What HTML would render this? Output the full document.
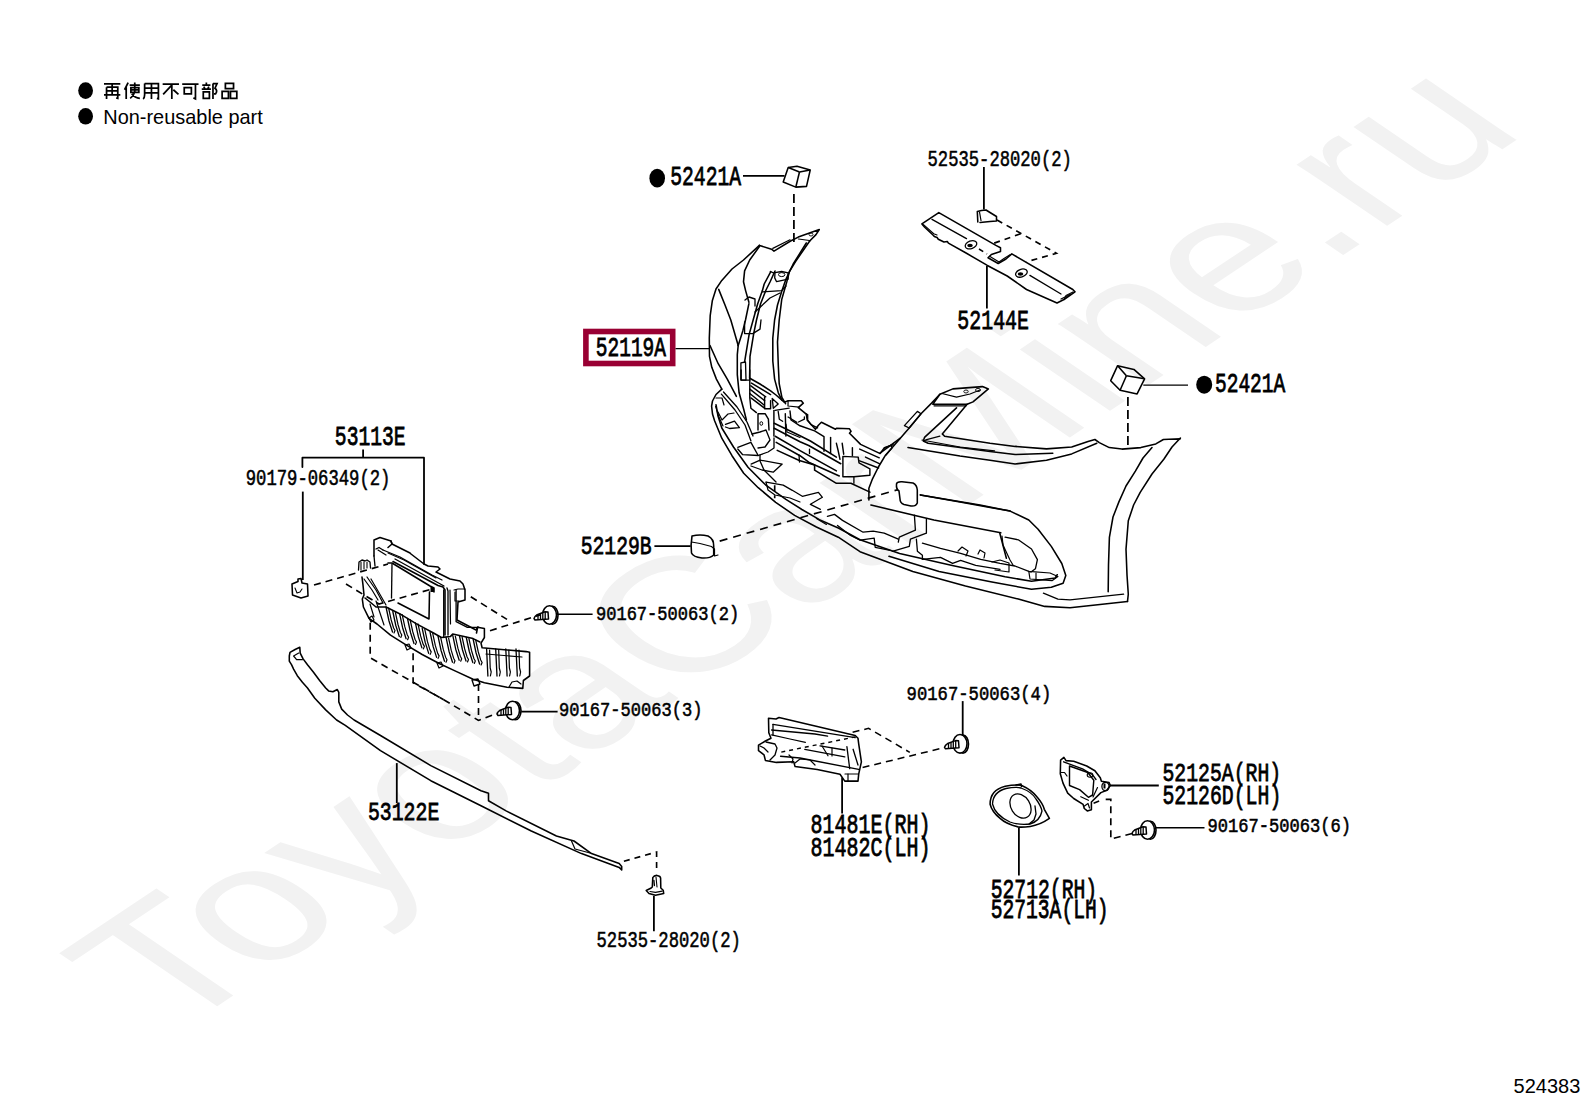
<!DOCTYPE html>
<html><head><meta charset="utf-8"><style>
html,body{margin:0;padding:0;background:#fff;}
body{width:1592px;height:1099px;overflow:hidden;position:relative;font-family:"Liberation Sans",sans-serif;}
svg{position:absolute;left:0;top:0;}
</style></head><body>
<svg width="1592" height="1099" viewBox="0 0 1592 1099">
<rect width="1592" height="1099" fill="#fff"/>
<text transform="matrix(0.70383 -0.46931 0.69913 0.47629 172.68 1035.70)" font-family="Liberation Sans" font-size="244.0" fill="#f2f2f2" letter-spacing="0.0">ToyotaCarMine.ru</text>
<ellipse cx="85.6" cy="90.6" rx="7.4" ry="8.3" fill="#000"/>
<ellipse cx="85.6" cy="116.3" rx="7.4" ry="8.3" fill="#000"/>
<path transform="translate(104.00 82.6) scale(1.02 1.02)" d="M0 1.2H16 M2.5 4.5V16 M2.5 4.5H13.5V15.5 L12 15 M8 1.2V12 M2.5 8H13.5 M0 12H16" fill="none" stroke="#000" stroke-width="1.7"/>
<path transform="translate(123.55 82.6) scale(1.02 1.02)" d="M4.5 0L1 7 M2.6 4.5V16 M6 2.5H16 M11 0V10 M7.2 5H15 V9.5H7.2Z M7.2 7.2H15 M10.5 10Q10 13 6.5 15.5 M8 11Q11 15 16 15.5" fill="none" stroke="#000" stroke-width="1.7"/>
<path transform="translate(143.10 82.6) scale(1.02 1.02)" d="M1.5 1V12Q1.5 15 0 16 M1.5 1H15V16 L13.5 15.5 M8.2 1V16 M1.5 5.5H15 M1.5 10H15" fill="none" stroke="#000" stroke-width="1.7"/>
<path transform="translate(162.65 82.6) scale(1.02 1.02)" d="M0 1.5H16 M9 1.5V16 M8.5 3L0.5 11.5 M10.5 7L15.5 11.5" fill="none" stroke="#000" stroke-width="1.7"/>
<path transform="translate(182.20 82.6) scale(1.02 1.02)" d="M0 1.5H16 M13 1.5V16 L11 15 M2 5H9V11H2Z" fill="none" stroke="#000" stroke-width="1.7"/>
<path transform="translate(201.75 82.6) scale(1.02 1.02)" d="M4.5 0V2.5 M0.5 2.5H8.5 M2 4L3 6 M7 4L6 6 M0 6.5H9 M1.5 9H7.5V15.5H1.5Z M11 1V16 M11 1H15L13 5.5Q16 8 13.5 11L12 11" fill="none" stroke="#000" stroke-width="1.7"/>
<path transform="translate(221.30 82.6) scale(1.02 1.02)" d="M4 0.8H12V6H4Z M0.8 8.5H7V15.5H0.8Z M9 8.5H15.2V15.5H9Z" fill="none" stroke="#000" stroke-width="1.7"/>
<text x="103.3" y="123.7" font-family="Liberation Sans" font-size="20.3" fill="#000" textLength="159.5" lengthAdjust="spacingAndGlyphs">Non-reusable part</text>
<text x="1513.6" y="1093.2" font-family="Liberation Sans" font-size="20" fill="#000">524383</text>
<g font-family="Liberation Mono" fill="#000">
<text transform="translate(670.17 185.00) scale(0.7210 1)" font-size="27.33" font-weight="normal" stroke="#000" stroke-width="0.8">52421A</text>
<text transform="translate(595.78 356.00) scale(0.7138 1)" font-size="27.33" font-weight="normal" stroke="#000" stroke-width="0.8">52119A</text>
<text transform="translate(957.36 328.70) scale(0.7409 1)" font-size="26.87" font-weight="normal" stroke="#000" stroke-width="0.8">52144E</text>
<text transform="translate(1214.98 392.00) scale(0.7310 1)" font-size="26.72" font-weight="normal" stroke="#000" stroke-width="0.8">52421A</text>
<text transform="translate(334.87 445.10) scale(0.7354 1)" font-size="26.72" font-weight="normal" stroke="#000" stroke-width="0.8">53113E</text>
<text transform="translate(580.67 553.70) scale(0.7377 1)" font-size="26.72" font-weight="normal" stroke="#000" stroke-width="0.8">52129B</text>
<text transform="translate(367.96 820.40) scale(0.7636 1)" font-size="25.96" font-weight="normal" stroke="#000" stroke-width="0.8">53122E</text>
<text transform="translate(810.60 833.10) scale(0.7309 1)" font-size="27.33" font-weight="normal" stroke="#000" stroke-width="0.8">81481E(RH)</text>
<text transform="translate(810.60 856.40) scale(0.7309 1)" font-size="27.33" font-weight="normal" stroke="#000" stroke-width="0.8">81482C(LH)</text>
<text transform="translate(990.67 897.80) scale(0.7383 1)" font-size="26.72" font-weight="normal" stroke="#000" stroke-width="0.8">52712(RH)</text>
<text transform="translate(990.67 917.60) scale(0.7355 1)" font-size="26.72" font-weight="normal" stroke="#000" stroke-width="0.8">52713A(LH)</text>
<text transform="translate(1162.46 780.80) scale(0.7413 1)" font-size="26.72" font-weight="normal" stroke="#000" stroke-width="0.8">52125A(RH)</text>
<text transform="translate(1162.46 803.70) scale(0.7371 1)" font-size="26.87" font-weight="normal" stroke="#000" stroke-width="0.8">52126D(LH)</text>
<text transform="translate(927.53 166.40) scale(0.7860 1)" font-size="21.86" font-weight="normal" stroke="#000" stroke-width="0.55">52535-28020(2)</text>
<text transform="translate(245.71 485.30) scale(0.7883 1)" font-size="21.86" font-weight="normal" stroke="#000" stroke-width="0.55">90179-06349(2)</text>
<text transform="translate(595.92 620.00) scale(0.8651 1)" font-size="19.74" font-weight="normal" stroke="#000" stroke-width="0.55">90167-50063(2)</text>
<text transform="translate(559.02 716.30) scale(0.8331 1)" font-size="20.50" font-weight="normal" stroke="#000" stroke-width="0.55">90167-50063(3)</text>
<text transform="translate(906.61 700.40) scale(0.8535 1)" font-size="20.19" font-weight="normal" stroke="#000" stroke-width="0.55">90167-50063(4)</text>
<text transform="translate(1207.42 832.30) scale(0.8799 1)" font-size="19.43" font-weight="normal" stroke="#000" stroke-width="0.55">90167-50063(6)</text>
<text transform="translate(596.53 946.50) scale(0.7971 1)" font-size="21.56" font-weight="normal" stroke="#000" stroke-width="0.55">52535-28020(2)</text>
</g>
<rect x="585.9" y="331.5" width="86.8" height="32" fill="none" stroke="#990033" stroke-width="5.6"/>
<line x1="675.5" y1="348.6" x2="710.0" y2="348.6" stroke="#000" stroke-width="1.44"/>
<ellipse cx="657.2" cy="178.2" rx="7.8" ry="9.4" fill="#000"/>
<line x1="743.0" y1="175.8" x2="784.5" y2="175.8" stroke="#000" stroke-width="1.80"/>
<polygon points="788.2,167.6 797.0,166.3 810.2,170.1 806.5,186.4 795.8,187.1 783.2,182.0" fill="none" stroke="#000" stroke-width="1.56" stroke-linejoin="round" />
<line x1="799.5" y1="172.0" x2="788.2" y2="167.6" stroke="#000" stroke-width="1.56"/>
<line x1="799.5" y1="172.0" x2="810.2" y2="170.1" stroke="#000" stroke-width="1.56"/>
<line x1="799.5" y1="172.0" x2="795.8" y2="187.1" stroke="#000" stroke-width="1.56"/>
<polyline points="793.9,194.0 793.9,244.0" fill="none" stroke="#000" stroke-width="1.76" stroke-dasharray="9 4" />
<ellipse cx="1204.2" cy="384.7" rx="8" ry="9" fill="#000"/>
<line x1="1143.3" y1="385.1" x2="1188.0" y2="385.1" stroke="#000" stroke-width="1.44"/>
<polygon points="1117.6,365.7 1133.9,369.4 1144.6,378.8 1137.1,393.9 1120.1,390.2 1110.7,380.7" fill="none" stroke="#000" stroke-width="1.56" stroke-linejoin="round" />
<line x1="1126.4" y1="375.7" x2="1117.6" y2="365.7" stroke="#000" stroke-width="1.56"/>
<line x1="1126.4" y1="375.7" x2="1144.6" y2="378.8" stroke="#000" stroke-width="1.56"/>
<line x1="1126.4" y1="375.7" x2="1120.1" y2="390.2" stroke="#000" stroke-width="1.56"/>
<polyline points="1127.9,397.0 1127.9,446.0" fill="none" stroke="#000" stroke-width="1.76" stroke-dasharray="9 4" />
<line x1="983.9" y1="167.0" x2="983.9" y2="209.5" stroke="#000" stroke-width="1.80"/>
<polyline points="977.8,222.0 977.3,211.5 981.5,210.5 986.0,210.0 990.0,212.5 996.5,216.5 996.5,221.0 990.0,221.5 985.0,222.0 980.0,222.5" fill="none" stroke="#000" stroke-width="1.56" stroke-linejoin="round" stroke-linecap="round" />
<polyline points="979.5,212.0 981.0,220.5" fill="none" stroke="#000" stroke-width="1.20" stroke-linejoin="round" stroke-linecap="round" />
<polygon points="938.8,212.6 921.9,223.9 924.7,227.3 933.2,235.2 934.3,236.4 937.1,237.5 938.3,239.2 943.9,242.0 947.3,241.5 948.4,243.1 966.5,253.3 986.9,265.2 1007.2,276.0 1026.5,289.5 1057.0,303.0 1064.0,299.5 1075.0,291.8 1072.8,289.5 1011.8,253.9 1006.0,259.0 998.2,263.5 988.0,257.8 991.4,254.5 1000.5,251.6 1000.5,247.7 995.9,245.4" fill="none" stroke="#000" stroke-width="1.56" stroke-linejoin="round" />
<polyline points="923.5,224.6 933.7,233.8 937.0,235.0" fill="none" stroke="#000" stroke-width="1.20" stroke-linejoin="round" stroke-linecap="round" />
<polyline points="1061.0,299.0 1070.0,294.5" fill="none" stroke="#000" stroke-width="1.20" stroke-linejoin="round" stroke-linecap="round" />
<polyline points="932.0,219.4 966.5,238.6" fill="none" stroke="#000" stroke-width="1.32" stroke-linejoin="round" stroke-linecap="round" />
<polyline points="1029.9,275.4 1061.0,294.0" fill="none" stroke="#000" stroke-width="1.32" stroke-linejoin="round" stroke-linecap="round" />
<polyline points="990.0,256.5 999.0,262.0 1004.0,258.5 1010.0,254.8" fill="none" stroke="#000" stroke-width="1.20" stroke-linejoin="round" stroke-linecap="round" />
<polyline points="1064.0,299.5 1066.0,295.5 1073.0,292.0" fill="none" stroke="#000" stroke-width="1.20" stroke-linejoin="round" stroke-linecap="round" />
<ellipse cx="971" cy="244.8" rx="6" ry="3.8" transform="rotate(-20 971 244.8)" fill="none" stroke="#000" stroke-width="1.3"/>
<ellipse cx="970" cy="245.5" rx="2.8" ry="1.8" fill="#000"/>
<ellipse cx="1021.4" cy="273.1" rx="6" ry="3.8" transform="rotate(-20 1021.4 273.1)" fill="none" stroke="#000" stroke-width="1.3"/>
<ellipse cx="1020.5" cy="274" rx="2.8" ry="1.8" fill="#000"/>
<polyline points="997.0,220.0 1056.4,253.3 1026.5,261.8" fill="none" stroke="#000" stroke-width="1.65" stroke-dasharray="6 5" />
<polyline points="994.2,243.1 1021.4,233.5" fill="none" stroke="#000" stroke-width="1.65" stroke-dasharray="6 5" />
<polyline points="979.0,249.0 987.0,254.0" fill="none" stroke="#000" stroke-width="1.54" stroke-dasharray="5 4" />
<line x1="986.9" y1="266.0" x2="986.9" y2="308.6" stroke="#000" stroke-width="1.80"/>
<line x1="654.4" y1="546.1" x2="690.6" y2="546.1" stroke="#000" stroke-width="1.56"/>
<path d="M692,536 Q700,534 708,536 Q714,539 713.7,546 L713.7,555 Q710,558.5 702,558 Q693,557 691.5,553 Q690.5,545 692,536 Z" fill="#fff" stroke="#000" stroke-width="1.56" stroke-linejoin="round" stroke-linecap="round" />
<polyline points="691.5,542.0 700.0,543.5 711.5,546.5" fill="none" stroke="#000" stroke-width="1.20" stroke-linejoin="round" stroke-linecap="round" />
<polyline points="712.0,547.0 714.5,549.0 714.5,556.0 718.0,555.0" fill="none" stroke="#000" stroke-width="1.20" stroke-linejoin="round" stroke-linecap="round" />
<polyline points="719.7,541.1 899.4,489.2" fill="none" stroke="#000" stroke-width="1.65" stroke-dasharray="8 6" />
<path d="M896.5,484 Q897,481.5 902,481.8 L913,483 Q917,485 917.3,490 L917.3,503 Q916,506.5 911,506 L904,504.5 Q900,503 900,499 L899,491 Q896,489 896.5,484 Z" fill="#fff" stroke="#000" stroke-width="1.56" stroke-linejoin="round" stroke-linecap="round" />
<line x1="363.1" y1="449.5" x2="363.1" y2="457.7" stroke="#000" stroke-width="1.80"/>
<polyline points="302.4,467.1 302.4,457.7 424.0,457.7 424.0,564.0" fill="none" stroke="#000" stroke-width="1.80" stroke-linejoin="round" stroke-linecap="round" />
<line x1="302.8" y1="491.6" x2="302.8" y2="580.0" stroke="#000" stroke-width="1.80"/>
<polygon points="292.0,584.0 298.0,581.5 298.0,579.0 301.0,578.5 302.0,583.0 307.5,584.0 308.0,596.0 301.0,598.0 292.5,595.0" fill="#fff" stroke="#000" stroke-width="1.56" stroke-linejoin="round" />
<polyline points="295.0,588.0 297.0,593.0 300.0,592.0 302.0,589.0" fill="none" stroke="#000" stroke-width="1.08" stroke-linejoin="round" stroke-linecap="round" />
<g transform="translate(550.0 615.0) scale(1.00)" stroke="#000" stroke-linejoin="round">
<ellipse cx="2.5" cy="0.3" rx="5.5" ry="9" fill="#fff" stroke-width="1.6"/>
<ellipse cx="-0.5" cy="0" rx="7" ry="9.3" fill="#fff" stroke-width="1.6"/>
<path d="M-16,3.5 L-15,1.5 L-12.8,-0.3 L-5,-3.2 L-2,-3 L-1.5,4 L-15,5 Z" fill="#fff" stroke-width="1.5"/>
<path d="M-12,-0.5V4.8 M-9.5,-1.3V4.6 M-7.2,-2.2V4.4 M-4.8,-3V4.2" stroke-width="1.3"/>
</g>
<line x1="557.1" y1="614.3" x2="592.6" y2="614.3" stroke="#000" stroke-width="1.56"/>
<g transform="translate(513.0 710.5) scale(1.00)" stroke="#000" stroke-linejoin="round">
<ellipse cx="2.5" cy="0.3" rx="5.5" ry="9" fill="#fff" stroke-width="1.6"/>
<ellipse cx="-0.5" cy="0" rx="7" ry="9.3" fill="#fff" stroke-width="1.6"/>
<path d="M-16,3.5 L-15,1.5 L-12.8,-0.3 L-5,-3.2 L-2,-3 L-1.5,4 L-15,5 Z" fill="#fff" stroke-width="1.5"/>
<path d="M-12,-0.5V4.8 M-9.5,-1.3V4.6 M-7.2,-2.2V4.4 M-4.8,-3V4.2" stroke-width="1.3"/>
</g>
<line x1="521.2" y1="711.6" x2="557.6" y2="711.6" stroke="#000" stroke-width="1.56"/>
<g transform="translate(960.5 743.8) scale(1.00)" stroke="#000" stroke-linejoin="round">
<ellipse cx="2.5" cy="0.3" rx="5.5" ry="9" fill="#fff" stroke-width="1.6"/>
<ellipse cx="-0.5" cy="0" rx="7" ry="9.3" fill="#fff" stroke-width="1.6"/>
<path d="M-16,3.5 L-15,1.5 L-12.8,-0.3 L-5,-3.2 L-2,-3 L-1.5,4 L-15,5 Z" fill="#fff" stroke-width="1.5"/>
<path d="M-12,-0.5V4.8 M-9.5,-1.3V4.6 M-7.2,-2.2V4.4 M-4.8,-3V4.2" stroke-width="1.3"/>
</g>
<line x1="962.7" y1="701.1" x2="962.7" y2="736.0" stroke="#000" stroke-width="1.80"/>
<g transform="translate(1148.0 830.0) scale(1.00)" stroke="#000" stroke-linejoin="round">
<ellipse cx="2.5" cy="0.3" rx="5.5" ry="9" fill="#fff" stroke-width="1.6"/>
<ellipse cx="-0.5" cy="0" rx="7" ry="9.3" fill="#fff" stroke-width="1.6"/>
<path d="M-16,3.5 L-15,1.5 L-12.8,-0.3 L-5,-3.2 L-2,-3 L-1.5,4 L-15,5 Z" fill="#fff" stroke-width="1.5"/>
<path d="M-12,-0.5V4.8 M-9.5,-1.3V4.6 M-7.2,-2.2V4.4 M-4.8,-3V4.2" stroke-width="1.3"/>
</g>
<line x1="1155.5" y1="827.7" x2="1204.5" y2="827.7" stroke="#000" stroke-width="1.56"/>
<polygon points="299.8,647.3 295.1,649.5 290.0,652.4 289.3,656.0 289.3,661.1 291.5,664.7 293.6,669.1 297.3,675.7 302.4,682.2 307.5,688.0 314.8,698.2 325.7,709.9 336.6,720.0 345.3,725.4 380.5,750.6 430.8,780.7 481.0,805.8 531.3,831.0 581.5,853.6 619.2,867.4 621.7,869.9 621.7,866.6 619.2,863.6 591.5,853.6 574.0,841.0 556.4,836.0 506.1,810.9 488.5,800.8 488.5,793.3 481.0,790.8 430.8,765.6 380.5,735.5 354.1,720.0 347.5,715.0 341.7,709.1 338.8,701.9 338.8,692.4 337.3,689.5 332.9,691.7 328.6,690.9 325.7,688.0 319.8,680.8 313.3,672.0 307.5,664.7 303.1,658.9 300.2,653.1" fill="none" stroke="#000" stroke-width="1.56" stroke-linejoin="round" />
<polyline points="298.7,653.1 293.6,656.0 296.6,659.7 302.4,659.7" fill="none" stroke="#000" stroke-width="1.20" stroke-linejoin="round" stroke-linecap="round" />
<polyline points="571.5,841.0 575.0,849.0 590.0,853.0" fill="none" stroke="#000" stroke-width="1.20" stroke-linejoin="round" stroke-linecap="round" />
<line x1="396.8" y1="763.1" x2="396.8" y2="803.0" stroke="#000" stroke-width="1.80"/>
<polyline points="623.9,861.3 656.6,852.0 656.6,873.0" fill="none" stroke="#000" stroke-width="1.65" stroke-dasharray="6 5" />
<path d="M652.3,887 L652.8,877.5 Q654,875.3 657,875.4 Q660.4,875.8 660.6,878 L660.8,888 L663.2,890.2 L663.7,893.5 L655.5,895.2 L649,893.5 L646.2,890.5 L651.2,888 Z" fill="#fff" stroke="#000" stroke-width="1.56" stroke-linejoin="round" stroke-linecap="round" />
<polyline points="653.9,880.4 654.4,885.5" fill="none" stroke="#000" stroke-width="1.32" stroke-linejoin="round" stroke-linecap="round" />
<polyline points="650.0,891.5 655.5,892.4 662.1,891.2" fill="none" stroke="#000" stroke-width="1.20" stroke-linejoin="round" stroke-linecap="round" />
<polyline points="656.0,877.0 657.0,887.0" fill="none" stroke="#000" stroke-width="1.08" stroke-linejoin="round" stroke-linecap="round" />
<line x1="653.9" y1="895.7" x2="653.9" y2="931.2" stroke="#000" stroke-width="1.80"/>
<polygon points="768.5,718.2 776.0,719.0 779.0,717.5 785.4,718.9 817.2,726.5 855.2,735.5 858.0,738.3 858.7,743.8 861.4,761.8 858.7,774.2 858.0,781.1 844.8,781.1 840.0,774.2 817.2,769.4 795.1,766.6 793.7,761.8 776.4,762.4 765.4,760.4 764.0,754.8 758.5,750.7 758.5,745.2 765.4,741.0 771.0,738.3 768.8,732.7" fill="none" stroke="#000" stroke-width="1.56" stroke-linejoin="round" />
<polyline points="773.0,724.4 855.2,737.6" fill="none" stroke="#000" stroke-width="1.44" stroke-linejoin="round" stroke-linecap="round" />
<polyline points="773.0,724.4 773.0,735.0" fill="none" stroke="#000" stroke-width="1.32" stroke-linejoin="round" stroke-linecap="round" />
<polyline points="771.6,730.0 815.0,734.0 827.6,736.2" fill="none" stroke="#000" stroke-width="1.32" stroke-linejoin="round" stroke-linecap="round" />
<polyline points="771.6,734.8 790.0,739.0 805.4,742.4" fill="none" stroke="#000" stroke-width="1.20" stroke-linejoin="round" stroke-linecap="round" />
<polyline points="804.8,749.3 844.8,756.9" fill="none" stroke="#000" stroke-width="1.32" stroke-linejoin="round" stroke-linecap="round" />
<polyline points="820.0,745.9 844.8,750.0" fill="none" stroke="#000" stroke-width="1.32" stroke-linejoin="round" stroke-linecap="round" />
<polyline points="780.6,756.2 800.0,758.0 858.7,769.4" fill="none" stroke="#000" stroke-width="1.44" stroke-linejoin="round" stroke-linecap="round" />
<polyline points="822.0,746.0 828.0,755.8" fill="none" stroke="#000" stroke-width="1.20" stroke-linejoin="round" stroke-linecap="round" />
<polyline points="832.0,748.0 832.0,756.0" fill="none" stroke="#000" stroke-width="1.20" stroke-linejoin="round" stroke-linecap="round" />
<polyline points="846.9,746.6 849.7,768.7" fill="none" stroke="#000" stroke-width="1.32" stroke-linejoin="round" stroke-linecap="round" />
<polyline points="853.1,749.3 858.0,765.0" fill="none" stroke="#000" stroke-width="1.32" stroke-linejoin="round" stroke-linecap="round" />
<polyline points="845.0,774.0 858.0,774.0" fill="none" stroke="#000" stroke-width="1.20" stroke-linejoin="round" stroke-linecap="round" />
<polyline points="848.0,774.0 848.0,781.0" fill="none" stroke="#000" stroke-width="1.20" stroke-linejoin="round" stroke-linecap="round" />
<polyline points="766.0,742.0 775.0,744.0 777.0,748.0 775.0,755.0 770.0,760.0" fill="none" stroke="#000" stroke-width="1.32" stroke-linejoin="round" stroke-linecap="round" />
<polyline points="760.0,746.0 764.0,748.0 768.0,752.0" fill="none" stroke="#000" stroke-width="1.20" stroke-linejoin="round" stroke-linecap="round" />
<polyline points="795.0,763.0 800.0,759.0 810.0,760.0 815.0,765.0" fill="none" stroke="#000" stroke-width="1.20" stroke-linejoin="round" stroke-linecap="round" />
<polyline points="789.0,755.0 793.0,759.0 792.0,763.0" fill="none" stroke="#000" stroke-width="1.20" stroke-linejoin="round" stroke-linecap="round" />
<polyline points="781.3,752.1 855.2,736.9" fill="none" stroke="#000" stroke-width="1.43" stroke-dasharray="4 4" />
<polyline points="852.6,732.3 868.6,728.3 909.8,752.4" fill="none" stroke="#000" stroke-width="1.54" stroke-dasharray="7 5" />
<polyline points="862.6,767.5 941.0,748.4" fill="none" stroke="#000" stroke-width="1.54" stroke-dasharray="7 5" />
<line x1="842.1" y1="777.5" x2="842.1" y2="813.4" stroke="#000" stroke-width="1.80"/>
<path d="M990.1,804.3 Q990,790 1005.2,786.2 Q1014,784.5 1021.2,785.2 Q1032,790 1037.3,797.3 Q1043,804 1044.3,809.3 L1049.4,818.4 Q1040,825 1030.3,826.4 Q1022,827.5 1018.2,826.9 Q1006,824 1000.1,818.4 Q992,812 990.1,804.3 Z" fill="none" stroke="#000" stroke-width="1.56" stroke-linejoin="round" stroke-linecap="round" />
<path d="M992.5,804 Q993,792 1006,788.5 Q1016,786.5 1021,788 Q1032,792 1036,799 Q1041,806 1042,811 Q1040,821 1030,824 Q1020,825.5 1010,822 Q995,815 992.5,804 Z" fill="none" stroke="#000" stroke-width="1.32" stroke-linejoin="round" stroke-linecap="round" />
<ellipse cx="1020.5" cy="806" rx="9.5" ry="13" transform="rotate(-32 1020.5 806)" fill="none" stroke="#000" stroke-width="1.3"/>
<polyline points="1035.0,806.0 1036.0,814.0 1034.0,820.0 1029.0,824.0" fill="none" stroke="#000" stroke-width="1.32" stroke-linejoin="round" stroke-linecap="round" />
<polyline points="1016.0,785.0 1021.0,784.0 1021.5,786.5" fill="none" stroke="#000" stroke-width="1.44" stroke-linejoin="round" stroke-linecap="round" />
<line x1="1018.9" y1="827.6" x2="1018.9" y2="875.4" stroke="#000" stroke-width="1.80"/>
<polygon points="1063.9,757.4 1060.6,760.1 1060.3,773.7 1063.0,783.1 1067.7,793.2 1073.7,798.5 1083.1,804.4 1084.3,808.5 1087.3,810.9 1091.4,809.7 1091.4,802.0 1100.9,792.6 1106.8,790.2 1110.3,785.5 1109.1,782.5 1101.4,781.3 1100.3,777.8 1094.9,770.7 1086.7,766.0 1073.7,761.2 1066.0,760.6" fill="none" stroke="#000" stroke-width="1.56" stroke-linejoin="round" />
<polygon points="1069.5,766.0 1069.5,785.5 1079.6,789.6 1088.4,797.3 1092.6,795.0 1093.8,780.2 1087.8,772.5" fill="none" stroke="#000" stroke-width="1.44" stroke-linejoin="round" />
<polyline points="1063.6,761.8 1068.3,763.6 1082.5,768.9 1092.6,774.8 1096.0,779.5" fill="none" stroke="#000" stroke-width="1.32" stroke-linejoin="round" stroke-linecap="round" />
<polyline points="1080.8,796.7 1088.4,800.3" fill="none" stroke="#000" stroke-width="1.20" stroke-linejoin="round" stroke-linecap="round" />
<polyline points="1061.0,772.5 1064.5,772.5 1067.0,776.0" fill="none" stroke="#000" stroke-width="1.20" stroke-linejoin="round" stroke-linecap="round" />
<ellipse cx="1090" cy="775" rx="2.8" ry="2.2" fill="none" stroke="#000" stroke-width="1.1"/>
<polyline points="1084.5,806.0 1088.0,803.5 1089.5,808.0" fill="none" stroke="#000" stroke-width="1.20" stroke-linejoin="round" stroke-linecap="round" />
<polyline points="1097.5,787.5 1093.0,797.0" fill="none" stroke="#000" stroke-width="1.20" stroke-linejoin="round" stroke-linecap="round" />
<ellipse cx="1105.5" cy="786.5" rx="3.6" ry="4.2" fill="none" stroke="#000" stroke-width="1.3"/>
<rect x="1103.5" y="783.5" width="2" height="5" fill="#000"/>
<line x1="1109.8" y1="785.5" x2="1158.8" y2="785.5" stroke="#000" stroke-width="1.80"/>
<polyline points="1093.6,803.3 1100.6,800.3" fill="none" stroke="#000" stroke-width="1.54" stroke-dasharray="6 4" />
<polyline points="1105.7,799.3 1110.8,799.3 1110.8,839.1 1132.7,833.4" fill="none" stroke="#000" stroke-width="1.65" stroke-dasharray="7 5" />
<polyline points="759.4,245.4 743.5,260.0 732.0,269.0 721.8,280.4 716.0,289.0 712.3,300.8 710.2,315.7 709.3,338.2 709.5,356.4 711.8,367.3 716.4,379.1 721.8,389.2" fill="none" stroke="#000" stroke-width="1.56" stroke-linejoin="round" stroke-linecap="round" />
<polyline points="759.4,245.4 761.3,246.0 771.5,249.2 774.0,251.1 790.6,241.0 798.3,237.1 819.3,229.5 816.0,234.6 809.7,241.0" fill="none" stroke="#000" stroke-width="1.56" stroke-linejoin="round" stroke-linecap="round" />
<polyline points="772.8,248.4 790.0,239.8" fill="none" stroke="#000" stroke-width="1.20" stroke-linejoin="round" stroke-linecap="round" />
<polyline points="798.5,239.0 809.5,240.5" fill="none" stroke="#000" stroke-width="1.20" stroke-linejoin="round" stroke-linecap="round" />
<ellipse cx="811" cy="234.5" rx="2" ry="1.5" fill="none" stroke="#000" stroke-width="0.9"/>
<polyline points="809.7,241.0 795.7,261.3 789.4,271.5 786.8,281.7 781.7,299.6 779.2,320.0 777.5,342.0 778.3,365.5 779.2,383.7 781.9,397.3 785.5,403.7" fill="none" stroke="#000" stroke-width="1.56" stroke-linejoin="round" stroke-linecap="round" />
<polyline points="806.3,243.0 793.2,264.0 786.0,279.0 781.5,292.0 777.5,305.0 774.6,320.0 772.8,338.2 772.8,361.0 774.6,379.1 778.3,392.8 781.9,400.1" fill="none" stroke="#000" stroke-width="1.56" stroke-linejoin="round" stroke-linecap="round" />
<polyline points="759.4,246.5 749.7,260.0 744.6,270.9 743.5,281.8 745.6,290.6 748.9,302.2" fill="none" stroke="#000" stroke-width="1.56" stroke-linejoin="round" stroke-linecap="round" />
<polyline points="718.7,289.4 725.0,305.0 730.8,320.0 738.2,345.5" fill="none" stroke="#000" stroke-width="1.56" stroke-linejoin="round" stroke-linecap="round" />
<polyline points="710.0,345.5 718.2,363.7 727.3,379.1 736.4,396.4" fill="none" stroke="#000" stroke-width="1.56" stroke-linejoin="round" stroke-linecap="round" />
<polyline points="738.2,345.5 742.8,330.9 745.5,320.0 748.9,303.7" fill="none" stroke="#000" stroke-width="1.56" stroke-linejoin="round" stroke-linecap="round" />
<polyline points="738.2,345.5 737.3,354.6 737.3,374.6 739.1,392.8 743.7,409.2 746.4,420.0" fill="none" stroke="#000" stroke-width="1.56" stroke-linejoin="round" stroke-linecap="round" />
<polyline points="770.8,271.6 764.2,284.0 762.4,290.6 757.7,303.7 753.7,318.0 749.1,334.6 745.5,356.4 744.6,362.0" fill="none" stroke="#000" stroke-width="1.56" stroke-linejoin="round" stroke-linecap="round" />
<polyline points="775.0,271.0 770.0,282.0 766.0,290.0 760.5,304.0 756.5,320.0 753.7,333.6 750.0,356.4 749.6,378.2" fill="none" stroke="#000" stroke-width="1.56" stroke-linejoin="round" stroke-linecap="round" />
<polygon points="740.9,362.8 745.5,362.0 746.0,380.1 740.9,380.1" fill="none" stroke="#000" stroke-width="1.32" stroke-linejoin="round" />
<polyline points="744.6,321.8 744.6,333.6 752.8,333.6 760.0,329.1 761.0,320.0" fill="none" stroke="#000" stroke-width="1.32" stroke-linejoin="round" stroke-linecap="round" />
<polyline points="745.0,300.0 749.0,297.0 755.0,299.0 755.0,306.0" fill="none" stroke="#000" stroke-width="1.32" stroke-linejoin="round" stroke-linecap="round" />
<polyline points="770.3,271.5 773.4,272.8 781.7,271.5 788.1,272.8 788.1,279.2 776.6,281.7 774.7,277.9 775.0,273.0" fill="none" stroke="#000" stroke-width="1.32" stroke-linejoin="round" stroke-linecap="round" />
<ellipse cx="781.7" cy="274.6" rx="3.2" ry="2" fill="none" stroke="#000" stroke-width="1"/>
<polyline points="762.6,291.9 781.7,290.6 786.0,286.0" fill="none" stroke="#000" stroke-width="1.32" stroke-linejoin="round" stroke-linecap="round" />
<polyline points="755.0,312.0 770.0,298.0 780.0,293.0" fill="none" stroke="#000" stroke-width="1.32" stroke-linejoin="round" stroke-linecap="round" />
<polyline points="721.8,389.2 716.0,394.5 712.5,401.0 711.6,406.2 712.5,414.0 714.6,420.8 721.8,438.2 732.0,455.7 743.7,473.2 758.2,487.7 775.7,502.3 794.6,515.4 816.4,527.0 838.3,537.2 860.0,551.7 912.8,571.4 965.5,586.0 1018.3,599.1 1044.7,606.4 1070.0,607.7 1100.0,604.5 1127.5,601.5" fill="none" stroke="#000" stroke-width="1.56" stroke-linejoin="round" stroke-linecap="round" />
<polyline points="716.0,404.7 718.0,416.0 721.8,428.0 733.5,447.0 748.0,467.3 765.5,484.8 785.9,499.4 801.9,509.5 819.4,519.7 838.3,528.0 860.0,539.8 899.6,553.6 952.3,565.5 1005.1,576.7 1031.5,581.3 1055.2,578.0 1057.2,574.7" fill="none" stroke="#000" stroke-width="1.56" stroke-linejoin="round" stroke-linecap="round" />
<polyline points="889.0,556.3 939.1,571.4 991.9,582.0 1031.5,589.3 1051.3,587.3 1063.1,583.3 1065.8,575.4 1061.8,563.5 1051.3,546.4 1038.1,529.2 1028.8,520.0 1010.1,511.1 960.0,502.0 920.4,494.9" fill="none" stroke="#000" stroke-width="1.56" stroke-linejoin="round" stroke-linecap="round" />
<polyline points="1043.4,593.2 1057.9,599.1 1070.0,599.8 1123.6,594.2" fill="none" stroke="#000" stroke-width="1.32" stroke-linejoin="round" stroke-linecap="round" />
<polyline points="1127.5,601.5 1128.3,594.2 1127.0,575.0 1126.0,549.2 1128.3,520.8 1133.6,505.0 1140.2,492.4 1152.0,474.0 1163.8,459.3 1172.0,447.0 1180.4,438.0" fill="none" stroke="#000" stroke-width="1.56" stroke-linejoin="round" stroke-linecap="round" />
<polyline points="1108.2,591.8 1108.5,565.0 1109.4,537.4 1113.0,517.0 1118.9,501.9 1126.0,486.0 1135.4,471.2 1143.0,458.0 1152.0,447.5" fill="none" stroke="#000" stroke-width="1.56" stroke-linejoin="round" stroke-linecap="round" />
<polyline points="932.8,404.3 939.9,394.3 952.9,388.9 982.5,386.6 988.4,388.9 973.0,401.9 967.1,404.3 932.8,404.3" fill="none" stroke="#000" stroke-width="1.56" stroke-linejoin="round" stroke-linecap="round" />
<polyline points="942.0,393.5 956.5,397.2 970.0,394.0 980.0,390.0" fill="none" stroke="#000" stroke-width="1.20" stroke-linejoin="round" stroke-linecap="round" />
<ellipse cx="966" cy="391.5" rx="2.2" ry="1.5" fill="none" stroke="#000" stroke-width="0.9"/>
<ellipse cx="978" cy="390" rx="2.5" ry="1.6" fill="none" stroke="#000" stroke-width="0.9"/>
<polyline points="934.0,405.8 966.0,405.8" fill="none" stroke="#000" stroke-width="1.20" stroke-linejoin="round" stroke-linecap="round" />
<polyline points="967.1,404.3 942.3,433.9 944.6,436.2 990.0,443.2 1015.1,446.4 1046.5,448.9 1071.7,447.0 1088.0,441.4 1094.9,439.5 1099.3,442.6 1109.3,447.6 1121.9,449.1 1140.8,447.6 1155.8,443.9 1163.4,439.5 1180.3,438.8" fill="none" stroke="#000" stroke-width="1.56" stroke-linejoin="round" stroke-linecap="round" />
<polyline points="956.5,407.9 924.5,437.4 923.3,441.0 928.1,443.3 990.0,451.4 1015.1,454.5 1052.8,453.3" fill="none" stroke="#000" stroke-width="1.56" stroke-linejoin="round" stroke-linecap="round" />
<polyline points="925.7,439.8 939.9,436.2" fill="none" stroke="#000" stroke-width="1.20" stroke-linejoin="round" stroke-linecap="round" />
<polyline points="908.0,447.5 960.0,456.0 990.0,460.2 1015.1,464.0 1046.5,460.2 1071.7,453.9 1096.8,443.2" fill="none" stroke="#000" stroke-width="1.56" stroke-linejoin="round" stroke-linecap="round" />
<polyline points="1163.4,439.5 1172.0,439.5 1178.0,439.5" fill="none" stroke="#000" stroke-width="1.20" stroke-linejoin="round" stroke-linecap="round" />
<polyline points="939.9,394.3 931.6,403.1 921.0,413.8 909.2,428.0 893.8,445.7 885.5,455.2 878.4,467.0 872.5,478.8 868.9,488.3 868.9,500.0" fill="none" stroke="#000" stroke-width="1.56" stroke-linejoin="round" stroke-linecap="round" />
<polygon points="904.4,425.6 917.4,411.4 921.0,413.8 909.2,428.0" fill="none" stroke="#000" stroke-width="1.32" stroke-linejoin="round" />
<polyline points="884.3,448.1 891.0,445.0 892.0,448.0 886.0,455.0" fill="none" stroke="#000" stroke-width="1.20" stroke-linejoin="round" stroke-linecap="round" />
<polyline points="870.9,505.0 933.9,520.0 1000.8,532.8" fill="none" stroke="#000" stroke-width="1.56" stroke-linejoin="round" stroke-linecap="round" />
<polyline points="999.8,533.2 1006.4,558.3" fill="none" stroke="#000" stroke-width="1.56" stroke-linejoin="round" stroke-linecap="round" />
<polyline points="1005.1,537.1 1018.3,539.8 1031.5,549.0 1037.4,559.6 1035.4,568.8 1031.0,572.0" fill="none" stroke="#000" stroke-width="1.32" stroke-linejoin="round" stroke-linecap="round" />
<polyline points="1002.0,536.0 1003.0,545.0 1010.0,560.0 1013.0,565.0" fill="none" stroke="#000" stroke-width="1.20" stroke-linejoin="round" stroke-linecap="round" />
<polyline points="920.4,494.9 980.0,505.0 1010.1,511.1" fill="none" stroke="#000" stroke-width="1.56" stroke-linejoin="round" stroke-linecap="round" />
<polyline points="922.0,440.0 960.0,447.0 994.6,450.8" fill="none" stroke="#000" stroke-width="1.20" stroke-linejoin="round" stroke-linecap="round" />
<polyline points="749.8,378.2 760.0,384.0 770.6,390.8 776.0,395.0 784.2,402.2 788.2,400.7 801.3,400.7 803.3,403.2 798.3,407.7 806.3,414.2 807.3,420.3 815.4,429.3 818.4,425.3 821.4,422.3 835.5,429.3 836.5,428.3 849.5,428.8 851.1,431.3 849.5,433.3 860.6,444.4 879.7,453.4 900.0,438.3" fill="none" stroke="#000" stroke-width="1.56" stroke-linejoin="round" stroke-linecap="round" />
<polyline points="741.1,370.0 741.1,380.1 749.8,380.1 749.8,370.0" fill="none" stroke="#000" stroke-width="1.44" stroke-linejoin="round" stroke-linecap="round" />
<polyline points="751.5,383.1 770.6,394.6" fill="none" stroke="#000" stroke-width="1.44" stroke-linejoin="round" stroke-linecap="round" />
<polyline points="750.9,385.8 765.7,396.8" fill="none" stroke="#000" stroke-width="1.44" stroke-linejoin="round" stroke-linecap="round" />
<polyline points="749.8,389.1 764.6,400.6" fill="none" stroke="#000" stroke-width="1.44" stroke-linejoin="round" stroke-linecap="round" />
<polyline points="749.8,393.5 764.0,405.0" fill="none" stroke="#000" stroke-width="1.44" stroke-linejoin="round" stroke-linecap="round" />
<polyline points="750.9,397.9 764.6,408.2" fill="none" stroke="#000" stroke-width="1.44" stroke-linejoin="round" stroke-linecap="round" />
<polyline points="749.8,380.0 749.8,398.0 750.9,408.2 756.4,412.6" fill="none" stroke="#000" stroke-width="1.44" stroke-linejoin="round" stroke-linecap="round" />
<polyline points="764.6,397.3 764.6,408.8 770.6,408.8 770.6,400.6" fill="none" stroke="#000" stroke-width="1.44" stroke-linejoin="round" stroke-linecap="round" />
<polyline points="772.2,398.4 778.2,403.9 773.3,408.2 772.2,398.4" fill="none" stroke="#000" stroke-width="1.32" stroke-linejoin="round" stroke-linecap="round" />
<polyline points="775.0,410.4 789.2,408.2" fill="none" stroke="#000" stroke-width="1.32" stroke-linejoin="round" stroke-linecap="round" />
<polyline points="788.1,400.6 788.0,406.0 799.0,407.1" fill="none" stroke="#000" stroke-width="1.20" stroke-linejoin="round" stroke-linecap="round" />
<polyline points="758.0,430.0 758.0,413.7 765.1,413.7 768.4,419.2 769.0,430.0" fill="none" stroke="#000" stroke-width="1.44" stroke-linejoin="round" stroke-linecap="round" />
<ellipse cx="761.3" cy="423.5" rx="1.4" ry="1.8" fill="none" stroke="#000" stroke-width="1"/>
<polyline points="773.9,410.4 773.9,436.0" fill="none" stroke="#000" stroke-width="1.44" stroke-linejoin="round" stroke-linecap="round" />
<polyline points="778.2,411.5 779.3,419.2 782.6,421.3" fill="none" stroke="#000" stroke-width="1.32" stroke-linejoin="round" stroke-linecap="round" />
<polyline points="785.3,413.7 785.9,436.0" fill="none" stroke="#000" stroke-width="1.44" stroke-linejoin="round" stroke-linecap="round" />
<polyline points="788.1,417.0 796.8,422.4" fill="none" stroke="#000" stroke-width="1.32" stroke-linejoin="round" stroke-linecap="round" />
<polyline points="798.5,422.0 804.4,419.2 804.4,417.0" fill="none" stroke="#000" stroke-width="1.32" stroke-linejoin="round" stroke-linecap="round" />
<polyline points="805.5,413.7 807.7,414.5 807.7,420.2 811.0,424.6 817.6,427.9" fill="none" stroke="#000" stroke-width="1.32" stroke-linejoin="round" stroke-linecap="round" />
<polyline points="774.2,423.3 800.0,435.8 810.4,441.0 836.4,457.1" fill="none" stroke="#000" stroke-width="1.56" stroke-linejoin="round" stroke-linecap="round" />
<polyline points="774.2,428.3 800.0,441.8 808.7,445.5 840.8,463.7" fill="none" stroke="#000" stroke-width="1.56" stroke-linejoin="round" stroke-linecap="round" />
<polyline points="775.2,436.3 800.0,450.6 836.4,470.9" fill="none" stroke="#000" stroke-width="1.56" stroke-linejoin="round" stroke-linecap="round" />
<polyline points="776.2,442.4 800.0,455.7 808.7,462.2 839.3,476.0" fill="none" stroke="#000" stroke-width="1.56" stroke-linejoin="round" stroke-linecap="round" />
<polyline points="777.2,450.4 799.3,460.5 814.6,465.1 814.6,470.2 836.4,483.3 850.9,483.3 869.9,492.1" fill="none" stroke="#000" stroke-width="1.56" stroke-linejoin="round" stroke-linecap="round" />
<polyline points="799.0,455.0 799.5,462.0" fill="none" stroke="#000" stroke-width="1.32" stroke-linejoin="round" stroke-linecap="round" />
<polyline points="790.0,411.0 791.0,420.0 800.0,425.8 814.6,430.9 824.0,436.7 824.0,451.3" fill="none" stroke="#000" stroke-width="1.44" stroke-linejoin="round" stroke-linecap="round" />
<polyline points="786.0,424.0 787.0,432.0 800.0,437.5" fill="none" stroke="#000" stroke-width="1.20" stroke-linejoin="round" stroke-linecap="round" />
<polyline points="809.5,449.1 809.5,453.5" fill="none" stroke="#000" stroke-width="1.32" stroke-linejoin="round" stroke-linecap="round" />
<polyline points="830.6,437.5 830.6,453.5" fill="none" stroke="#000" stroke-width="1.44" stroke-linejoin="round" stroke-linecap="round" />
<polyline points="836.4,443.3 838.0,450.0 840.0,459.3" fill="none" stroke="#000" stroke-width="1.44" stroke-linejoin="round" stroke-linecap="round" />
<polyline points="842.2,443.3 843.7,454.2" fill="none" stroke="#000" stroke-width="1.44" stroke-linejoin="round" stroke-linecap="round" />
<polyline points="852.4,447.7 852.4,455.7" fill="none" stroke="#000" stroke-width="1.44" stroke-linejoin="round" stroke-linecap="round" />
<polyline points="842.9,456.4 858.2,457.1 859.0,462.9 869.9,468.8 869.9,475.3 853.9,476.8 842.9,476.8 842.9,456.4" fill="none" stroke="#000" stroke-width="1.44" stroke-linejoin="round" stroke-linecap="round" />
<polyline points="859.7,449.1 879.3,457.8" fill="none" stroke="#000" stroke-width="1.44" stroke-linejoin="round" stroke-linecap="round" />
<polyline points="865.5,457.1 879.3,463.7" fill="none" stroke="#000" stroke-width="1.44" stroke-linejoin="round" stroke-linecap="round" />
<polyline points="859.7,460.8 878.6,468.0" fill="none" stroke="#000" stroke-width="1.44" stroke-linejoin="round" stroke-linecap="round" />
<polyline points="853.9,476.8 853.9,483.3" fill="none" stroke="#000" stroke-width="1.32" stroke-linejoin="round" stroke-linecap="round" />
<polyline points="880.1,453.5 884.4,447.7 893.2,444.7" fill="none" stroke="#000" stroke-width="1.44" stroke-linejoin="round" stroke-linecap="round" />
<polyline points="721.4,394.1 735.0,410.0 745.0,425.0 750.9,440.8" fill="none" stroke="#000" stroke-width="1.32" stroke-linejoin="round" stroke-linecap="round" />
<polyline points="723.5,392.0 737.0,407.0 747.0,422.0 753.0,436.0" fill="none" stroke="#000" stroke-width="1.32" stroke-linejoin="round" stroke-linecap="round" />
<polyline points="725.5,424.4 734.5,421.1 739.4,427.7 729.6,428.5 725.5,427.0" fill="none" stroke="#000" stroke-width="1.32" stroke-linejoin="round" stroke-linecap="round" />
<polyline points="737.8,447.3 750.9,442.4 754.1,448.1 758.2,455.5 742.7,454.7 737.8,449.0" fill="none" stroke="#000" stroke-width="1.32" stroke-linejoin="round" stroke-linecap="round" />
<polyline points="752.0,434.0 760.0,432.0 766.0,430.0 770.0,440.0 765.0,447.0 758.0,448.0" fill="none" stroke="#000" stroke-width="1.32" stroke-linejoin="round" stroke-linecap="round" />
<polyline points="758.2,455.5 768.0,452.0 774.0,448.0 774.0,438.0" fill="none" stroke="#000" stroke-width="1.32" stroke-linejoin="round" stroke-linecap="round" />
<polyline points="751.1,464.1 760.1,460.1 782.2,464.1 773.2,472.2 762.0,470.0 751.0,466.0" fill="none" stroke="#000" stroke-width="1.32" stroke-linejoin="round" stroke-linecap="round" />
<polyline points="760.0,455.0 760.0,461.0 764.0,470.0 770.0,476.0 776.0,482.0" fill="none" stroke="#000" stroke-width="1.32" stroke-linejoin="round" stroke-linecap="round" />
<polyline points="718.0,412.0 722.0,420.0 728.0,414.0 734.0,413.0" fill="none" stroke="#000" stroke-width="1.20" stroke-linejoin="round" stroke-linecap="round" />
<polyline points="715.6,406.4 718.9,417.0 723.0,426.0" fill="none" stroke="#000" stroke-width="1.20" stroke-linejoin="round" stroke-linecap="round" />
<polyline points="716.0,398.0 722.0,398.0 724.0,405.0" fill="none" stroke="#000" stroke-width="1.20" stroke-linejoin="round" stroke-linecap="round" />
<polyline points="766.1,482.2 783.2,485.2 792.3,490.3 802.3,496.3 818.4,492.3 822.4,497.3 810.4,504.3 820.4,509.3" fill="none" stroke="#000" stroke-width="1.32" stroke-linejoin="round" stroke-linecap="round" />
<polyline points="766.0,482.0 768.0,490.0 775.0,495.0 790.0,498.0 800.0,502.0" fill="none" stroke="#000" stroke-width="1.20" stroke-linejoin="round" stroke-linecap="round" />
<polyline points="827.4,516.4 834.5,514.4 842.5,520.4 863.1,532.2 873.2,531.2 884.2,533.2 898.3,539.2" fill="none" stroke="#000" stroke-width="1.32" stroke-linejoin="round" stroke-linecap="round" />
<polyline points="837.5,525.4 850.5,535.5 860.1,540.2 874.2,538.2 875.2,547.3 890.3,550.3" fill="none" stroke="#000" stroke-width="1.32" stroke-linejoin="round" stroke-linecap="round" />
<polyline points="816.4,518.4 826.4,524.4" fill="none" stroke="#000" stroke-width="1.20" stroke-linejoin="round" stroke-linecap="round" />
<polyline points="914.4,515.1 915.4,530.2 899.3,537.2 898.3,542.2" fill="none" stroke="#000" stroke-width="1.32" stroke-linejoin="round" stroke-linecap="round" />
<polyline points="926.4,519.1 926.4,533.2 910.4,539.2 909.3,546.3 892.3,551.3" fill="none" stroke="#000" stroke-width="1.32" stroke-linejoin="round" stroke-linecap="round" />
<polyline points="916.4,539.2 917.4,551.3 922.4,555.3 922.4,559.3" fill="none" stroke="#000" stroke-width="1.32" stroke-linejoin="round" stroke-linecap="round" />
<polyline points="922.4,543.2 940.5,548.3 960.6,553.3 980.7,559.3 1000.0,563.3 1015.0,566.0 1028.8,571.4" fill="none" stroke="#000" stroke-width="1.32" stroke-linejoin="round" stroke-linecap="round" />
<polyline points="922.4,559.3 940.5,557.3 952.6,563.3 960.6,560.3 975.7,565.4 1000.0,569.4" fill="none" stroke="#000" stroke-width="1.32" stroke-linejoin="round" stroke-linecap="round" />
<polyline points="992.0,562.0 1000.0,560.0 1009.0,563.0 1009.0,572.0 995.0,570.0" fill="none" stroke="#000" stroke-width="1.20" stroke-linejoin="round" stroke-linecap="round" />
<polyline points="1028.8,571.4 1050.0,573.0 1057.9,576.5 1052.0,580.7 1030.0,579.0 1028.8,571.4" fill="none" stroke="#000" stroke-width="1.20" stroke-linejoin="round" stroke-linecap="round" />
<polyline points="1036.0,573.0 1036.0,580.0" fill="none" stroke="#000" stroke-width="1.20" stroke-linejoin="round" stroke-linecap="round" />
<polyline points="958.0,551.0 962.0,547.0 968.0,551.0 966.0,556.0" fill="none" stroke="#000" stroke-width="1.20" stroke-linejoin="round" stroke-linecap="round" />
<polyline points="978.0,554.0 980.0,550.0 985.0,553.0 984.0,558.0" fill="none" stroke="#000" stroke-width="1.20" stroke-linejoin="round" stroke-linecap="round" />
<polyline points="774.7,485.2 774.7,498.3" fill="none" stroke="#000" stroke-width="1.65" stroke-dasharray="6 4" />
<polyline points="374.0,556.0 374.0,540.0 380.0,537.5 391.0,541.0 392.0,544.0 388.0,547.5" fill="none" stroke="#000" stroke-width="1.56" stroke-linejoin="round" stroke-linecap="round" />
<polyline points="391.0,541.0 392.0,544.0 410.0,553.0 411.0,554.0 424.0,564.0 428.0,566.0 438.0,567.0 440.0,569.0 436.0,572.0 450.0,579.0 460.0,581.0 463.0,584.0 465.0,590.0 465.0,600.0 458.0,602.0 457.0,620.0 476.0,630.0 478.0,627.0" fill="none" stroke="#000" stroke-width="1.56" stroke-linejoin="round" stroke-linecap="round" />
<polyline points="376.0,549.0 379.0,547.5 383.0,550.0" fill="none" stroke="#000" stroke-width="1.32" stroke-linejoin="round" stroke-linecap="round" />
<polyline points="378.0,550.0 386.0,555.0" fill="none" stroke="#000" stroke-width="1.20" stroke-linejoin="round" stroke-linecap="round" />
<polyline points="383.0,550.0 400.0,557.0 432.0,575.0 442.0,580.0" fill="none" stroke="#000" stroke-width="1.20" stroke-linejoin="round" stroke-linecap="round" />
<polyline points="388.0,553.0 404.0,560.0 436.0,578.0" fill="none" stroke="#000" stroke-width="1.08" stroke-linejoin="round" stroke-linecap="round" />
<polyline points="374.0,556.0 375.0,566.0" fill="none" stroke="#000" stroke-width="1.32" stroke-linejoin="round" stroke-linecap="round" />
<polyline points="395.0,559.0 444.0,586.0" fill="none" stroke="#000" stroke-width="1.32" stroke-linejoin="round" stroke-linecap="round" />
<polyline points="393.0,561.5 438.0,585.5 443.0,587.0 445.0,590.0 445.0,635.0" fill="none" stroke="#000" stroke-width="1.56" stroke-linejoin="round" stroke-linecap="round" />
<polyline points="447.0,588.0 448.0,591.0 448.0,635.0" fill="none" stroke="#000" stroke-width="1.32" stroke-linejoin="round" stroke-linecap="round" />
<polyline points="450.0,590.0 450.5,624.0" fill="none" stroke="#000" stroke-width="1.20" stroke-linejoin="round" stroke-linecap="round" />
<polyline points="388.0,563.0 392.0,563.0 430.0,586.0 434.0,588.0 434.0,592.0" fill="none" stroke="#000" stroke-width="1.56" stroke-linejoin="round" stroke-linecap="round" />
<polyline points="392.0,564.0 391.5,598.0" fill="none" stroke="#000" stroke-width="1.32" stroke-linejoin="round" stroke-linecap="round" />
<polyline points="398.0,603.0 429.0,619.0 429.5,592.0" fill="none" stroke="#000" stroke-width="1.56" stroke-linejoin="round" stroke-linecap="round" />
<rect x="430.5" y="587" width="3.5" height="5" fill="#000"/>
<polyline points="454.0,590.0 458.0,589.0 465.0,589.0" fill="none" stroke="#000" stroke-width="1.20" stroke-linejoin="round" stroke-linecap="round" />
<polyline points="455.0,592.0 455.0,601.0 459.0,601.0" fill="none" stroke="#000" stroke-width="1.20" stroke-linejoin="round" stroke-linecap="round" />
<polyline points="358.5,570.0 359.0,562.0 362.0,560.0 365.0,561.0 367.0,560.0 370.0,562.0 370.5,568.0" fill="none" stroke="#000" stroke-width="1.32" stroke-linejoin="round" stroke-linecap="round" />
<polyline points="361.0,562.0 361.0,570.0" fill="none" stroke="#000" stroke-width="1.08" stroke-linejoin="round" stroke-linecap="round" />
<polyline points="364.0,562.0 364.0,569.0" fill="none" stroke="#000" stroke-width="1.08" stroke-linejoin="round" stroke-linecap="round" />
<polyline points="367.0,562.0 367.0,568.0" fill="none" stroke="#000" stroke-width="1.08" stroke-linejoin="round" stroke-linecap="round" />
<polyline points="362.0,577.0 363.0,585.0 364.0,595.0 362.3,599.0 363.4,607.0 369.0,618.3 377.0,624.0 390.5,635.2 405.2,644.3 422.2,654.5 439.2,663.5 456.1,671.4 473.1,679.3 484.4,682.7 507.0,687.2 522.8,688.4 523.4,680.5 529.6,676.0 529.6,652.2 526.2,651.6 482.1,647.7 481.0,643.1 484.4,637.5 484.4,628.4 477.6,627.3 476.5,633.0" fill="none" stroke="#000" stroke-width="1.56" stroke-linejoin="round" stroke-linecap="round" />
<polyline points="365.0,598.0 370.0,602.0 376.0,607.0 386.0,607.0 399.6,613.7 416.5,623.9 433.5,633.0 441.4,637.5 450.5,636.4 452.7,634.1 473.1,638.6 479.9,642.0" fill="none" stroke="#000" stroke-width="1.56" stroke-linejoin="round" stroke-linecap="round" />
<polyline points="364.0,579.0 372.0,590.0 378.0,600.0" fill="none" stroke="#000" stroke-width="1.20" stroke-linejoin="round" stroke-linecap="round" />
<polyline points="367.0,577.0 376.0,590.0 383.0,603.0" fill="none" stroke="#000" stroke-width="1.20" stroke-linejoin="round" stroke-linecap="round" />
<polyline points="371.0,579.0 378.0,591.0 386.0,605.0" fill="none" stroke="#000" stroke-width="1.20" stroke-linejoin="round" stroke-linecap="round" />
<polyline points="386.0,607.0 389.0,621.0 392.5,632.0" fill="none" stroke="#000" stroke-width="1.32" stroke-linejoin="round" stroke-linecap="round" />
<polyline points="388.6,608.0 391.2,620.0 393.6,628.0 395.0,630.5 394.0,633.0" fill="none" stroke="#000" stroke-width="1.20" stroke-linejoin="round" stroke-linecap="round" />
<polyline points="392.8,611.5 395.8,625.5 399.3,636.5" fill="none" stroke="#000" stroke-width="1.32" stroke-linejoin="round" stroke-linecap="round" />
<polyline points="395.4,612.5 398.0,624.5 400.4,632.5 401.8,635.0 400.8,637.5" fill="none" stroke="#000" stroke-width="1.20" stroke-linejoin="round" stroke-linecap="round" />
<polyline points="399.6,613.7 402.6,627.7 406.1,638.7" fill="none" stroke="#000" stroke-width="1.32" stroke-linejoin="round" stroke-linecap="round" />
<polyline points="402.2,614.7 404.8,626.7 407.2,634.7 408.6,637.2 407.6,639.7" fill="none" stroke="#000" stroke-width="1.20" stroke-linejoin="round" stroke-linecap="round" />
<polyline points="407.5,618.5 410.5,632.5 414.0,643.5" fill="none" stroke="#000" stroke-width="1.32" stroke-linejoin="round" stroke-linecap="round" />
<polyline points="410.1,619.5 412.7,631.5 415.1,639.5 416.5,642.0 415.5,644.5" fill="none" stroke="#000" stroke-width="1.20" stroke-linejoin="round" stroke-linecap="round" />
<polyline points="415.4,622.9 418.4,636.9 421.9,647.9" fill="none" stroke="#000" stroke-width="1.32" stroke-linejoin="round" stroke-linecap="round" />
<polyline points="418.0,623.9 420.6,635.9 423.0,643.9 424.4,646.4 423.4,648.9" fill="none" stroke="#000" stroke-width="1.20" stroke-linejoin="round" stroke-linecap="round" />
<polyline points="422.2,628.4 425.2,642.4 428.7,653.4" fill="none" stroke="#000" stroke-width="1.32" stroke-linejoin="round" stroke-linecap="round" />
<polyline points="424.8,629.4 427.4,641.4 429.8,649.4 431.2,651.9 430.2,654.4" fill="none" stroke="#000" stroke-width="1.20" stroke-linejoin="round" stroke-linecap="round" />
<polyline points="430.1,632.4 433.1,646.4 436.6,657.4" fill="none" stroke="#000" stroke-width="1.32" stroke-linejoin="round" stroke-linecap="round" />
<polyline points="432.7,633.4 435.3,645.4 437.7,653.4 439.1,655.9 438.1,658.4" fill="none" stroke="#000" stroke-width="1.20" stroke-linejoin="round" stroke-linecap="round" />
<polyline points="438.0,636.2 441.0,650.2 444.5,661.2" fill="none" stroke="#000" stroke-width="1.32" stroke-linejoin="round" stroke-linecap="round" />
<polyline points="440.6,637.2 443.2,649.2 445.6,657.2 447.0,659.7 446.0,662.2" fill="none" stroke="#000" stroke-width="1.20" stroke-linejoin="round" stroke-linecap="round" />
<polyline points="446.0,637.2 449.0,651.2 452.5,662.2" fill="none" stroke="#000" stroke-width="1.32" stroke-linejoin="round" stroke-linecap="round" />
<polyline points="448.6,638.2 451.2,650.2 453.6,658.2 455.0,660.7 454.0,663.2" fill="none" stroke="#000" stroke-width="1.20" stroke-linejoin="round" stroke-linecap="round" />
<polyline points="452.7,635.2 455.7,649.2 459.2,660.2" fill="none" stroke="#000" stroke-width="1.32" stroke-linejoin="round" stroke-linecap="round" />
<polyline points="455.3,636.2 457.9,648.2 460.3,656.2 461.7,658.7 460.7,661.2" fill="none" stroke="#000" stroke-width="1.20" stroke-linejoin="round" stroke-linecap="round" />
<polyline points="459.5,636.0 462.5,650.0 466.0,661.0" fill="none" stroke="#000" stroke-width="1.32" stroke-linejoin="round" stroke-linecap="round" />
<polyline points="462.1,637.0 464.7,649.0 467.1,657.0 468.5,659.5 467.5,662.0" fill="none" stroke="#000" stroke-width="1.20" stroke-linejoin="round" stroke-linecap="round" />
<polyline points="466.3,637.5 469.3,651.5 472.8,662.5" fill="none" stroke="#000" stroke-width="1.32" stroke-linejoin="round" stroke-linecap="round" />
<polyline points="468.9,638.5 471.5,650.5 473.9,658.5 475.3,661.0 474.3,663.5" fill="none" stroke="#000" stroke-width="1.20" stroke-linejoin="round" stroke-linecap="round" />
<polyline points="473.1,639.0 476.1,653.0 479.6,664.0" fill="none" stroke="#000" stroke-width="1.32" stroke-linejoin="round" stroke-linecap="round" />
<polyline points="475.7,640.0 478.3,652.0 480.7,660.0 482.1,662.5 481.1,665.0" fill="none" stroke="#000" stroke-width="1.20" stroke-linejoin="round" stroke-linecap="round" />
<polyline points="486.6,649.0 487.6,670.0 487.9,676.0" fill="none" stroke="#000" stroke-width="1.32" stroke-linejoin="round" stroke-linecap="round" />
<polyline points="489.6,650.0 490.2,668.0 491.2,672.0 490.4,676.0" fill="none" stroke="#000" stroke-width="1.20" stroke-linejoin="round" stroke-linecap="round" />
<polyline points="495.7,649.0 496.7,670.0 497.0,676.0" fill="none" stroke="#000" stroke-width="1.32" stroke-linejoin="round" stroke-linecap="round" />
<polyline points="498.7,650.0 499.3,668.0 500.3,672.0 499.5,676.0" fill="none" stroke="#000" stroke-width="1.20" stroke-linejoin="round" stroke-linecap="round" />
<polyline points="505.8,649.0 506.8,670.0 507.1,676.0" fill="none" stroke="#000" stroke-width="1.32" stroke-linejoin="round" stroke-linecap="round" />
<polyline points="508.8,650.0 509.4,668.0 510.4,672.0 509.6,676.0" fill="none" stroke="#000" stroke-width="1.20" stroke-linejoin="round" stroke-linecap="round" />
<polyline points="516.0,649.0 517.0,670.0 517.3,676.0" fill="none" stroke="#000" stroke-width="1.32" stroke-linejoin="round" stroke-linecap="round" />
<polyline points="519.0,650.0 519.6,668.0 520.6,672.0 519.8,676.0" fill="none" stroke="#000" stroke-width="1.20" stroke-linejoin="round" stroke-linecap="round" />
<polyline points="486.0,654.0 522.0,657.0" fill="none" stroke="#000" stroke-width="1.20" stroke-linejoin="round" stroke-linecap="round" />
<polyline points="376.0,601.0 381.0,616.0 384.0,625.0" fill="none" stroke="#000" stroke-width="1.20" stroke-linejoin="round" stroke-linecap="round" />
<polyline points="370.0,604.0 374.0,617.0" fill="none" stroke="#000" stroke-width="1.20" stroke-linejoin="round" stroke-linecap="round" />
<polyline points="443.7,590.0 443.7,637.5" fill="none" stroke="#000" stroke-width="1.32" stroke-linejoin="round" stroke-linecap="round" />
<polyline points="456.1,590.0 456.1,621.7 467.4,627.3 477.6,627.3" fill="none" stroke="#000" stroke-width="1.32" stroke-linejoin="round" stroke-linecap="round" />
<polygon points="369.0,618.0 372.0,616.0 374.0,620.0 371.0,622.0" fill="none" stroke="#000" stroke-width="1.20" stroke-linejoin="round" />
<polygon points="405.0,645.0 409.0,644.0 411.0,648.0 407.0,650.0" fill="none" stroke="#000" stroke-width="1.20" stroke-linejoin="round" />
<polygon points="437.0,663.0 441.0,662.0 443.0,666.0 439.0,668.0" fill="none" stroke="#000" stroke-width="1.20" stroke-linejoin="round" />
<polygon points="472.0,680.0 478.0,679.0 480.0,684.0 474.0,686.0" fill="none" stroke="#000" stroke-width="1.32" stroke-linejoin="round" />
<polyline points="509.0,687.0 512.0,682.0 517.0,681.0 521.0,684.0" fill="none" stroke="#000" stroke-width="1.20" stroke-linejoin="round" stroke-linecap="round" />
<polyline points="370.2,622.8 370.2,657.8 443.7,699.7" fill="none" stroke="#000" stroke-width="1.65" stroke-dasharray="7 5" />
<polyline points="413.1,653.3 413.1,682.7 443.7,699.7" fill="none" stroke="#000" stroke-width="1.65" stroke-dasharray="7 5" />
<polyline points="443.7,699.7 478.5,720.4 498.0,712.9" fill="none" stroke="#000" stroke-width="1.65" stroke-dasharray="7 5" />
<polyline points="478.5,684.0 478.5,720.4" fill="none" stroke="#000" stroke-width="1.65" stroke-dasharray="7 5" />
<polyline points="490.0,630.7 540.0,614.9" fill="none" stroke="#000" stroke-width="1.65" stroke-dasharray="7 5" />
<polyline points="470.8,596.8 507.0,619.4" fill="none" stroke="#000" stroke-width="1.65" stroke-dasharray="7 5" />
<polyline points="314.0,585.0 388.0,564.0" fill="none" stroke="#000" stroke-width="1.65" stroke-dasharray="7 5" />
<polyline points="346.0,584.0 379.0,604.0 432.0,589.0" fill="none" stroke="#000" stroke-width="1.65" stroke-dasharray="7 5" />
</svg>
</body></html>
